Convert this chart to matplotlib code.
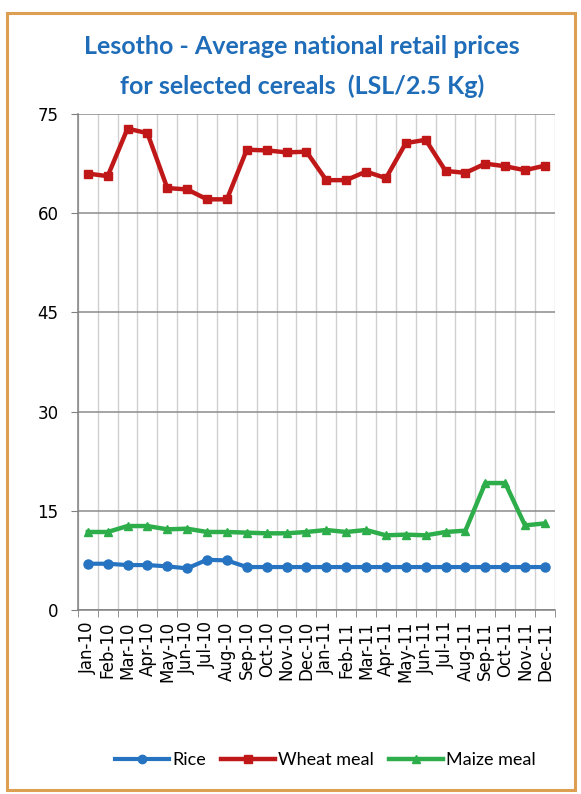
import numpy as np
import matplotlib.pyplot as plt
from matplotlib.patches import Rectangle
from matplotlib.lines import Line2D

months = ['Jan-10', 'Feb-10', 'Mar-10', 'Apr-10', 'May-10', 'Jun-10',
          'Jul-10', 'Aug-10', 'Sep-10', 'Oct-10', 'Nov-10', 'Dec-10',
          'Jan-11', 'Feb-11', 'Mar-11', 'Apr-11', 'May-11', 'Jun-11',
          'Jul-11', 'Aug-11', 'Sep-11', 'Oct-11', 'Nov-11', 'Dec-11']
rice = [7.0, 7.0, 6.8, 6.8, 6.6, 6.3, 7.6, 7.5, 6.5, 6.5, 6.5, 6.5,
        6.5, 6.5, 6.5, 6.5, 6.5, 6.5, 6.5, 6.5, 6.5, 6.5, 6.5, 6.5]
wheat = [66.0, 65.6, 72.8, 72.1, 63.8, 63.6, 62.1, 62.1, 69.6, 69.5, 69.2, 69.3,
         65.0, 65.0, 66.3, 65.3, 70.6, 71.1, 66.4, 66.1, 67.5, 67.1, 66.5, 67.2]
maize = [11.8, 11.8, 12.7, 12.7, 12.2, 12.3, 11.8, 11.8, 11.7, 11.6, 11.6, 11.8,
         12.1, 11.8, 12.1, 11.3, 11.4, 11.3, 11.8, 12.0, 19.2, 19.2, 12.8, 13.1]
yticks = [0, 15, 30, 45, 60, 75]

c_rice = '#2573C1'
c_wheat = '#C01818'
c_maize = '#2DAE4A'

fig = plt.figure(figsize=(5.81, 7.94), dpi=100)
fig.patches.append(Rectangle((0.012, 0.005), 0.978, 0.978, transform=fig.transFigure,
                             fill=False, edgecolor='#DDA052', linewidth=2.2))

ax = fig.add_axes([0.134, 0.2317, 0.821, 0.6247])
x = np.arange(len(months))
ax.plot(x, rice, color=c_rice, lw=3.0, marker='o', ms=6.5, label='Rice')
ax.plot(x, wheat, color=c_wheat, lw=3.2, marker='s', ms=6, label='Wheat meal')
ax.plot(x, maize, color=c_maize, lw=3.2, marker='^', ms=6, label='Maize meal')

ax.set_xlim(-0.5, len(months) - 0.5)
ax.set_ylim(0, 75)
ax.set_yticks(yticks)
ax.set_xticks(x)
ax.set_xticklabels(months, rotation=90, fontsize=12, family='DejaVu Sans')
ax.set_xticks(np.arange(len(months) + 1) - 0.5, minor=True)
ax.tick_params(axis='x', which='major', length=0, pad=8)
ax.tick_params(axis='x', which='minor', length=5, color='#808080', direction='out')
ax.tick_params(axis='y', length=5, color='#808080', labelsize=12, pad=9)

ax.grid(axis='y', color='#8C8C8C', lw=1.1)
ax.grid(axis='x', which='minor', color='#D0D0D0', lw=1.0)
ax.set_axisbelow(True)
for s in ['top', 'right']:
    ax.spines[s].set_visible(False)
for s in ['left', 'bottom']:
    ax.spines[s].set_color('#808080')
    ax.spines[s].set_linewidth(1.1)

fig.text(0.52, 0.942, 'Lesotho - Average national retail prices', ha='center', va='center',
         fontsize=18, fontweight='bold', color='#1F6DB8', family='Lato')
fig.text(0.52, 0.892, 'for selected cereals  (LSL/2.5 Kg)', ha='center', va='center',
         fontsize=18, fontweight='bold', color='#1F6DB8', family='Lato')

handles = [Line2D([], [], color=c_rice, lw=3.0, marker='o', ms=6),
           Line2D([], [], color=c_wheat, lw=3.2, marker='s', ms=6),
           Line2D([], [], color=c_maize, lw=3.2, marker='^', ms=6)]
fig.legend(handles, ['Rice', 'Wheat meal', 'Maize meal'], loc='center', ncol=3,
           bbox_to_anchor=(0.56, 0.043), frameon=False, handlelength=3.0,
           handletextpad=0.2, columnspacing=0.8, prop={'family': 'Lato', 'size': 13})

fig.savefig('out.png', dpi=100)
